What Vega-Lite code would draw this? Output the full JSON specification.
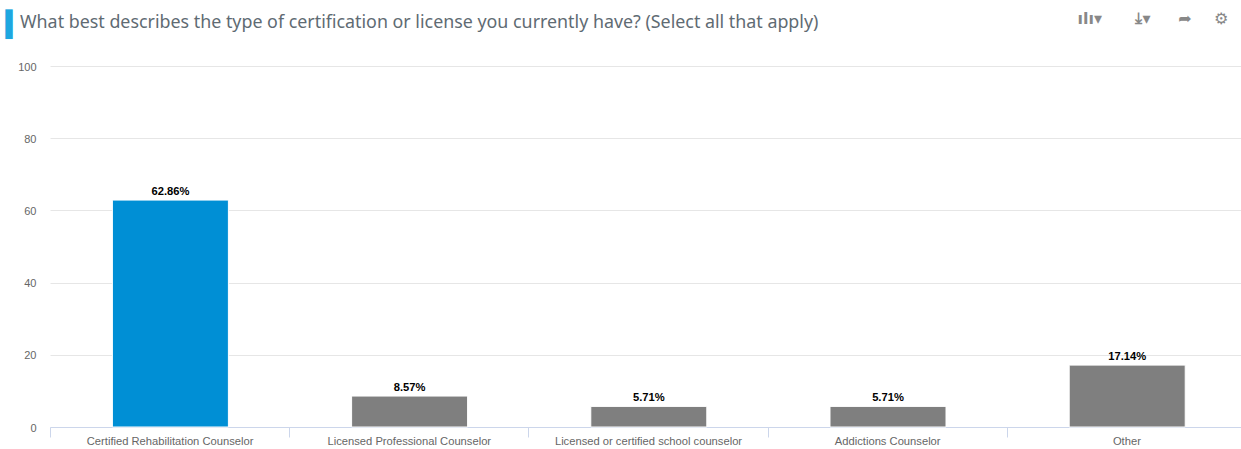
{
  "$schema": "https://vega.github.io/schema/vega-lite/v6.json",
  "width": 1196,
  "height": 361,
  "autosize": "none",
  "padding": {"left": 50, "top": 66, "right": 0, "bottom": 22},
  "background": "white",
  "view": {"stroke": null},
  "title": {
    "text": "What best describes the type of certification or license you currently have? (Select all that apply)",
    "anchor": "start",
    "frame": "group",
    "font": "Noto Sans",
    "fontSize": 17.85,
    "fontWeight": "normal",
    "color": "#5f6b73",
    "dx": -30,
    "offset": -22
  },
  "data": {
    "values": [
      {"answer": "Certified Rehabilitation Counselor", "percent": 62.86, "label": "62.86%"},
      {"answer": "Licensed Professional Counselor", "percent": 8.57, "label": "8.57%"},
      {"answer": "Licensed or certified school counselor", "percent": 5.71, "label": "5.71%"},
      {"answer": "Addictions Counselor", "percent": 5.71, "label": "5.71%"},
      {"answer": "Other", "percent": 17.14, "label": "17.14%"}
    ]
  },
  "encoding": {
    "x": {
      "field": "answer",
      "type": "nominal",
      "sort": null,
      "scale": {"padding": 0},
      "axis": {
        "title": "ılı▾\u00a0\u00a0\u00a0\u00a0\u00a0\u00a0⤓▾\u00a0\u00a0\u00a0\u00a0\u00a0➦\u00a0\u00a0\u00a0\u00a0⚙",
        "titleFont": "DejaVu Sans",
        "titleFontSize": 16,
        "titleFontWeight": "bold",
        "titleColor": "#888888",
        "titleAlign": "left",
        "titleBaseline": "middle",
        "titleX": 1027,
        "titleY": -409,
        "labelAngle": 0,
        "labelFont": "Liberation Sans",
        "labelFontSize": 11.2,
        "labelColor": "#666666",
        "labelPadding": -2,
        "labelLimit": 0,
        "domainColor": "#ccd6eb",
        "tickColor": "#ccd6eb",
        "tickSize": 10,
        "tickBand": "extent",
        "grid": false
      }
    },
    "y": {
      "field": "percent",
      "type": "quantitative",
      "scale": {"domain": [0, 100]},
      "axis": {
        "title": "▍",
        "titleFont": "DejaVu Sans",
        "titleFontSize": 25,
        "titleFontWeight": "normal",
        "titleColor": "#1ea7e0",
        "titleAngle": 0,
        "titleAlign": "left",
        "titleBaseline": "middle",
        "titleX": -45,
        "titleY": -42,
        "values": [0, 20, 40, 60, 80, 100],
        "labelFont": "Liberation Sans",
        "labelFontSize": 11,
        "labelColor": "#666666",
        "labelPadding": 14,
        "labelOffset": 1,
        "domain": false,
        "ticks": false,
        "grid": true,
        "gridColor": "#e6e6e6"
      }
    }
  },
  "layer": [
    {
      "mark": {"type": "bar", "width": {"band": 0.485}, "xOffset": 0.8, "stroke": "#ffffff", "strokeWidth": 1},
      "encoding": {
        "color": {
          "field": "answer",
          "type": "nominal",
          "legend": null,
          "scale": {
            "domain": [
              "Certified Rehabilitation Counselor",
              "Licensed Professional Counselor",
              "Licensed or certified school counselor",
              "Addictions Counselor",
              "Other"
            ],
            "range": ["#008fd5", "#7f7f7f", "#7f7f7f", "#7f7f7f", "#7f7f7f"]
          }
        }
      }
    },
    {
      "mark": {
        "type": "text",
        "baseline": "bottom",
        "dy": -3,
        "xOffset": 0.8,
        "font": "Liberation Sans",
        "fontSize": 11.2,
        "fontWeight": "bold",
        "color": "#000000"
      },
      "encoding": {"text": {"field": "label"}}
    }
  ]
}
